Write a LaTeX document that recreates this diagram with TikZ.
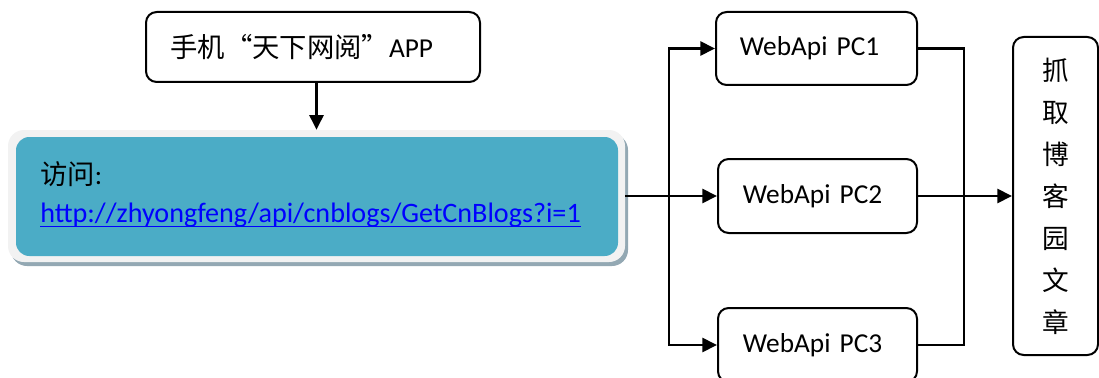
\documentclass[tikz,border=0pt]{standalone}
\usepackage{fontspec}
\setmainfont{Carlito}
\newfontfamily\cjk{Noto Sans CJK SC}
\usetikzlibrary{arrows.meta}
\definecolor{accent}{HTML}{4BACC6}
\definecolor{framegray}{HTML}{F2F2F2}
\definecolor{shadowblue}{HTML}{93A8B3}
\definecolor{linkblue}{HTML}{0000FF}
\begin{document}
\begin{tikzpicture}[x=0.75pt,y=-0.75pt,
  font=\fontsize{20.5pt}{24pt}\selectfont,
  box/.style={draw=black,line width=1.5pt,rounded corners=8pt,fill=white,inner sep=0pt},
  arr/.style={line width=2pt,-{Triangle[length=11pt,width=10.5pt]}},
  ln/.style={line width=2pt}]
\useasboundingbox (0,0) rectangle (1099,378);
% top box
\node[box,minimum width=250.5pt,minimum height=52.5pt,text width=214pt,align=left] (app) at (313,47) {{\cjk 手机“天下网阅”}APP};
% blue box with frame and shadow
\node[fill=shadowblue,rounded corners=12pt,minimum width=462.75pt,minimum height=99pt,inner sep=0pt] (shadow) at (319.5,200) {};
\node[fill=framegray,rounded corners=12pt,minimum width=462.75pt,minimum height=99pt,inner sep=0pt] (frame) at (316.5,196) {};
\node[fill=accent,rounded corners=10pt,minimum width=451.5pt,minimum height=89.25pt,inner sep=0pt] (inner) at (317,196.5) {};
\node[anchor=base west,inner sep=0pt] (visit) at (40,184) {{\cjk 访问}:};
\node[anchor=base west,inner sep=0pt,text=linkblue,font=\fontsize{21.1pt}{24pt}\selectfont] (url) at (40,222) {http://zhyongfeng/api/cnblogs/GetCnBlogs?i=1};
\draw[linkblue,line width=1pt] ([yshift=-3.5pt]url.base west) -- ([yshift=-3.5pt]url.base east);
% PC boxes
\node[box,minimum width=150.75pt,minimum height=54.75pt,text width=115pt,align=left] (pc1) at (816.5,48.5) {WebApi PC1};
\node[box,minimum width=149.25pt,minimum height=55.5pt,text width=112pt,align=left] (pc2) at (817.5,196) {WebApi PC2};
\node[box,minimum width=149.25pt,minimum height=55.5pt,text width=112pt,align=left] (pc3) at (817.5,345) {WebApi PC3};
% result box
\node[box,minimum width=63.75pt,minimum height=238.5pt,align=center,font=\cjk\fontsize{20pt}{31.5pt}\selectfont] (res) at (1055.5,196) {抓\\取\\博\\客\\园\\文\\章};
% connectors
\coordinate (j) at (669,196);
\coordinate (k) at (964,196);
\draw[arr] (app.south -| frame.north) -- (frame.north);
\draw[arr] (frame.east) -- (pc2.west);
\draw[arr] (j) |- (pc1.west);
\draw[arr] (j) |- (pc3.west);
\draw[ln] (pc1.east) -| (k);
\draw[ln] (pc3.east) -| (k);
\draw[arr] (pc2.east) -- (res.west);
\end{tikzpicture}
\end{document}
